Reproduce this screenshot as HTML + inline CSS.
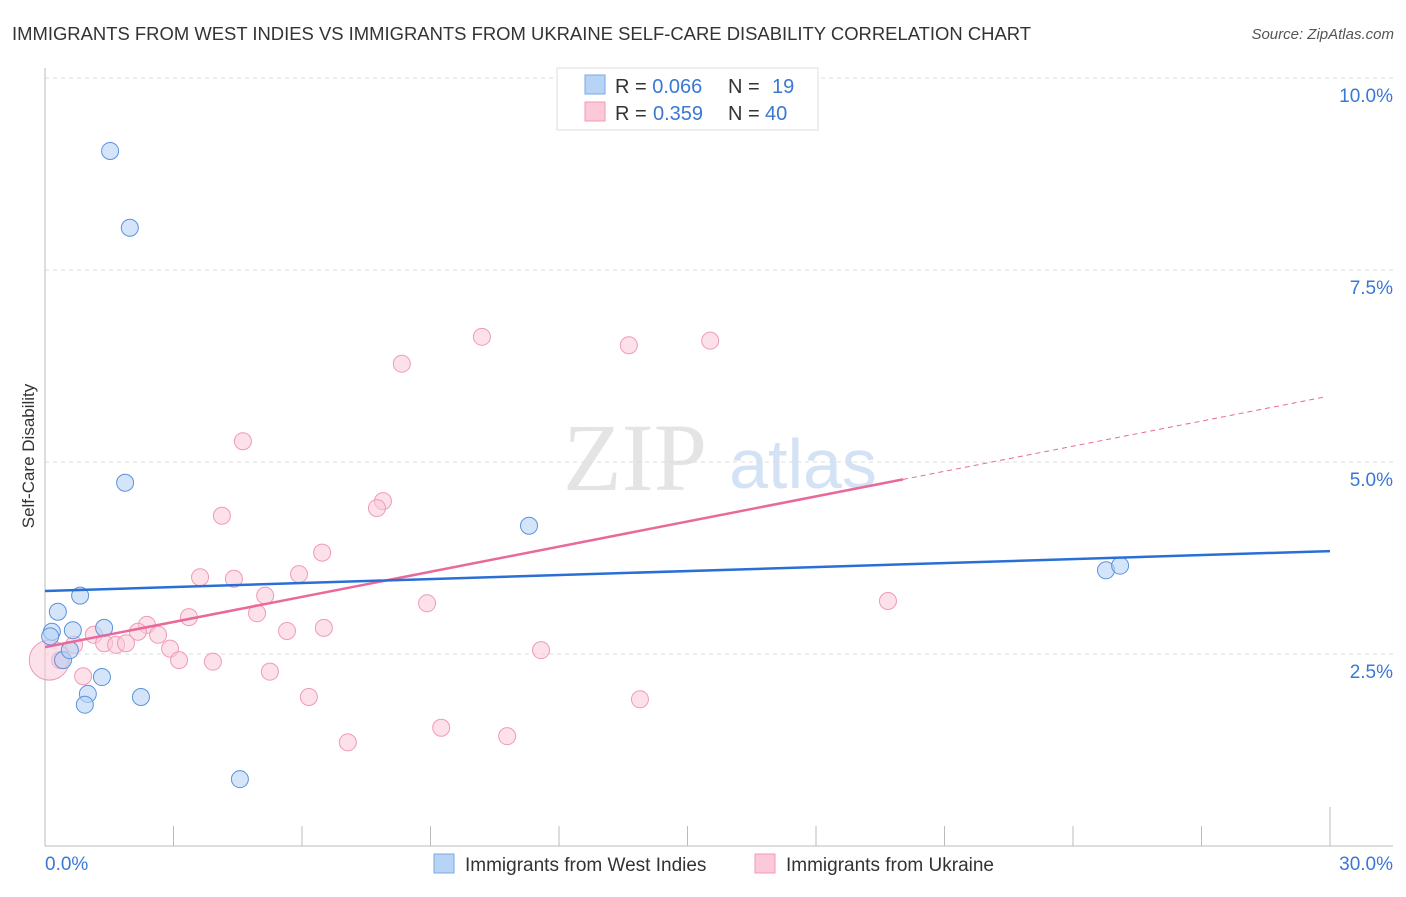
<!DOCTYPE html>
<html><head><meta charset="utf-8"><style>
body{margin:0;background:#fff;font-family:"Liberation Sans",sans-serif;}
</style></head><body>
<svg id="chart" width="1406" height="892" xmlns="http://www.w3.org/2000/svg" font-family="Liberation Sans, sans-serif">
<text x="12" y="40" font-size="18" fill="#333" textLength="1019" lengthAdjust="spacingAndGlyphs">IMMIGRANTS FROM WEST INDIES VS IMMIGRANTS FROM UKRAINE SELF-CARE DISABILITY CORRELATION CHART</text>
<text x="1394" y="39" font-size="15" fill="#555" text-anchor="end" font-style="italic">Source: ZipAtlas.com</text>
<text transform="translate(34,456) rotate(-90)" font-size="17" fill="#333" text-anchor="middle">Self-Care Disability</text>
<g><text x="635" y="490" font-size="96" font-family="Liberation Serif, serif" fill="#e4e4e4" text-anchor="middle">ZIP</text><text x="803" y="488" font-size="70" fill="#d3e2f5" text-anchor="middle">atlas</text></g>
<g id="grid"></g><g id="axes"></g><g id="marks"></g>
<g>
<rect x="557" y="68" width="261" height="62" fill="#fff" stroke="#ddd"/>
<rect x="585" y="75" width="20" height="19" fill="#b7d3f5" stroke="#7aa8e6"/>
<rect x="585" y="102" width="20" height="19" fill="#fcc9d8" stroke="#f09ab4"/>
<text x="615" y="93" font-size="20" fill="#333">R = <tspan fill="#3a78d4">0.066</tspan><tspan x="728">N = </tspan><tspan x="772" fill="#3a78d4">19</tspan></text>
<text x="615" y="120" font-size="20" fill="#333">R = <tspan x="653" fill="#3a78d4">0.359</tspan><tspan x="728">N = </tspan><tspan x="765" fill="#3a78d4">40</tspan></text>
</g>
<g>
<rect x="434" y="854" width="20" height="19" fill="#b7d3f5" stroke="#7aa8e6"/>
<text x="465" y="871" font-size="19" fill="#333">Immigrants from West Indies</text>
<rect x="755" y="854" width="20" height="19" fill="#fcc9d8" stroke="#f09ab4"/>
<text x="786" y="871" font-size="19" fill="#333">Immigrants from Ukraine</text>
</g>
</svg>
<script>
const yTicks=[2.5,5.0,7.5,10.0];
const xTickVals=[3,6,9,12,15,18,21,24,27,30];
const blueX=[1.52,1.98,1.87,11.30,24.77,25.10,0.82,0.30,0.65,1.38,0.16,0.12,0.42,0.58,1.33,1.00,0.93,2.24,4.55];
const blueY=[9.05,8.05,4.73,4.17,3.59,3.65,3.26,3.05,2.81,2.84,2.79,2.73,2.42,2.55,2.20,1.98,1.84,1.94,0.87];
const pinkX=[10.20,13.63,15.53,8.33,4.62,7.89,7.75,4.13,6.47,3.62,4.41,5.93,5.14,8.92,19.68,4.95,3.36,2.38,5.65,6.51,2.17,2.64,1.14,0.68,1.38,1.66,1.89,2.92,11.58,3.13,3.92,0.35,0.89,5.25,6.16,13.89,7.07,9.25,10.79,0.1];
const pinkY=[6.63,6.52,6.58,6.28,5.27,4.49,4.40,4.30,3.82,3.50,3.48,3.54,3.26,3.16,3.19,3.03,2.98,2.88,2.80,2.84,2.79,2.75,2.75,2.62,2.64,2.62,2.64,2.57,2.55,2.42,2.40,2.42,2.21,2.27,1.94,1.91,1.35,1.54,1.43,2.42];
const blueTrend=[3.32,3.84];
const pinkTrend=[2.59,5.86];
const pinkSolidEnd=20.03;
const X=v=>45+v/30*1285, Y=v=>846-v/2.5*192;
const NS='http://www.w3.org/2000/svg';
function mk(p,tag,a){const e=document.createElementNS(NS,tag);for(const k in a)e.setAttribute(k,a[k]);p.appendChild(e);return e;}
const grid=document.getElementById('grid'),axes=document.getElementById('axes'),marks=document.getElementById('marks');
yTicks.forEach(t=>{
 const l=mk(grid,'line',{x1:45,x2:1393,y1:Y(t),y2:Y(t),stroke:'#ddd','stroke-dasharray':'4,4'});
 
 
 const tx=mk(grid,'text',{x:1393,y:Y(t)+24,'font-size':19,fill:'#3a78d4','text-anchor':'end'});
 tx.textContent=t.toFixed(1)+'%';
 
 
});
const ax=mk(axes,'line',{x1:45,x2:1393,y1:846,y2:846,stroke:'#bbb'});


const ay=mk(axes,'line',{x1:45,x2:45,y1:68,y2:846,stroke:'#bbb'});


xTickVals.forEach(t=>{
 const l=mk(axes,'line',{x1:X(t),x2:X(t),y1:t==30?807:826,y2:846,stroke:'#bbb'});
 
 
});
[[0,'0.0%',45,'start'],[30,'30.0%',1393,'end']].forEach(d=>{
 const tx=mk(axes,'text',{x:d[2],y:870,'font-size':19,fill:'#3a78d4','text-anchor':d[3]});
 tx.textContent=d[1];
 
 
});
pinkX.forEach((x,i)=>{
 const big=i==pinkX.length-1;
 const c=mk(marks,'circle',{cx:X(x),cy:Y(pinkY[i]),r:big?20:8.5,fill:'#fcc9d8','fill-opacity':0.55,stroke:'#f09ab4','stroke-width':1});
 
 
});
blueX.forEach((x,i)=>{
 const c=mk(marks,'circle',{cx:X(x),cy:Y(blueY[i]),r:8.5,fill:'#b7d3f5','fill-opacity':0.6,stroke:'#5b92dd','stroke-width':1});
 
 
});
const pt=v=>pinkTrend[0]+(pinkTrend[1]-pinkTrend[0])*v/30;
const pl=mk(marks,'line',{x1:X(0),y1:Y(pinkTrend[0]),x2:X(pinkSolidEnd),y2:Y(pt(pinkSolidEnd)),stroke:'#e8699a','stroke-width':2.5});


const pd=mk(marks,'line',{x1:X(pinkSolidEnd),y1:Y(pt(pinkSolidEnd)),x2:X(29.93),y2:Y(pt(29.93)),stroke:'#e8699a','stroke-width':1,'stroke-dasharray':'5,4'});


const bl=mk(marks,'line',{x1:X(0),y1:Y(blueTrend[0]),x2:X(30),y2:Y(blueTrend[1]),stroke:'#2a6fd6','stroke-width':2.5});


</script>
</body></html>
